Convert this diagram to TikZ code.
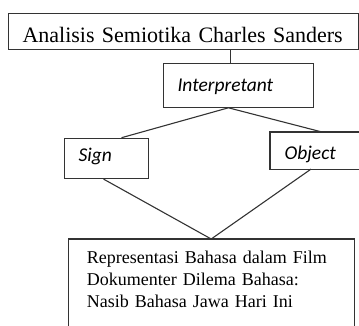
\documentclass[tikz,border=0pt]{standalone}
\usepackage{fontspec}
\setmainfont{Liberation Serif}
\newfontfamily\labelfont{Carlito}
\usepackage{tikz}
\usetikzlibrary{positioning,calc}

\begin{document}
\begin{tikzpicture}[
  x=1pt, y=-1pt,
  box/.style={rectangle, draw=black!80, line width=1.1pt, anchor=north west, inner xsep=14pt, inner ysep=0pt, align=left},
  termbox/.style={box, font=\labelfont\itshape\fontsize{19.5}{23}\selectfont},
  link/.style={draw=black!80, line width=1.1pt}
]
\useasboundingbox (0,0) rectangle (359,325);

% Top: title
\node[box, text width=322pt, text height=28.4pt, text depth=7.6pt, font=\fontsize{22}{26}\selectfont] (title) at (8,13.3) {Analisis Semiotika Charles Sanders};

% Interpretant
\node[termbox, text width=121.7pt, text height=27.7pt, text depth=16pt] (interp) at (163,63) {Interpretant};
\draw[link] ([xshift=-8pt]interp.north) -- ++(0,-14);

% Sign and Object (Object runs off the right edge)
\node[termbox, text width=56pt, text height=23.3pt, text depth=17pt] (sign) at (64,137.7) {Sign};
\node[termbox, draw=none, text width=61pt, text height=27.3pt, text depth=8.7pt] (obj) at (270,132) {Object};
\draw[link] (obj.north east) -- (obj.north west) -- (obj.south west) -- (obj.south east);
\draw[link] ([xshift=-10pt]interp.south) -- ([xshift=15pt]sign.north);
\draw[link] ([xshift=-10pt]interp.south) -- ([xshift=52pt]obj.north west);

% Bottom: film (runs off the bottom edge)
\node[box, draw=none, inner xsep=18pt, text width=248.7pt, text height=24pt, text depth=62pt, font=\fontsize{18}{22}\selectfont] (film) at (68.3,239) {Representasi Bahasa dalam Film\\Dokumenter Dilema Bahasa:\\Nasib Bahasa Jawa Hari Ini};
\draw[link] (film.south west) -- (film.north west) -- (film.north east) -- (film.south east);
\draw[link] ([xshift=-3pt]sign.south) -- (film.north);
\draw[link] ([xshift=41pt]obj.south west) -- (film.north);

\end{tikzpicture}
\end{document}
